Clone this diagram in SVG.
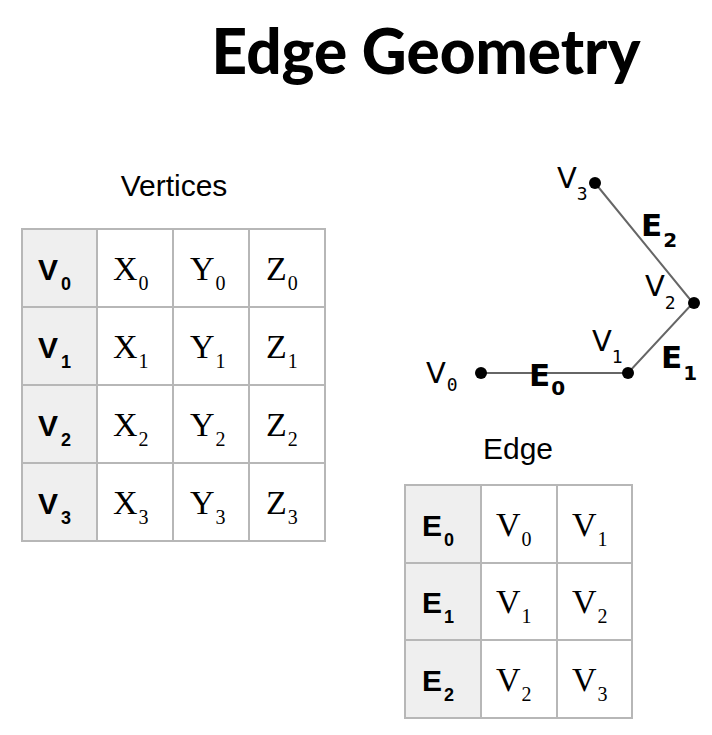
<svg xmlns="http://www.w3.org/2000/svg" width="712" height="735" viewBox="0 0 712 735">
<style>
.c{fill:#fff;stroke:#b7b7b7;stroke-width:2}
.h{fill:#efefef;stroke:#b7b7b7;stroke-width:2}
.hb{font-family:"Liberation Sans",Arial,sans-serif;font-weight:bold;font-size:30px;fill:#000}
.hs{font-size:18px}
.sr{font-family:"Liberation Serif","Times New Roman",serif;font-size:34px;fill:#000}
.ss{font-size:20px}
.lab{font-family:"Liberation Sans",Arial,sans-serif;font-size:30px;fill:#000}
.gv{font-family:"DejaVu Sans",sans-serif;font-size:29px;fill:#000}
.gm{font-family:"DejaVu Sans Mono",monospace;font-size:18px}
.ge{font-family:"DejaVu Sans",sans-serif;font-weight:bold;font-size:31px;fill:#000}
.gs{font-size:20px}
</style>
<text x="426" y="74" text-anchor="middle" font-family="Lato,sans-serif" font-weight="900" font-size="62" fill="#000">Edge Geometry</text>
<text x="174" y="196" text-anchor="middle" class="lab">Vertices</text>
<text x="518" y="459" text-anchor="middle" class="lab">Edge</text>
<g id="vertices">
<rect class="h" x="22" y="229" width="75" height="312"/>
<rect class="c" x="97" y="229" width="76" height="78"/><rect class="c" x="173" y="229" width="76" height="78"/><rect class="c" x="249" y="229" width="76" height="78"/>
<rect class="c" x="97" y="307" width="76" height="78"/><rect class="c" x="173" y="307" width="76" height="78"/><rect class="c" x="249" y="307" width="76" height="78"/>
<rect class="c" x="97" y="385" width="76" height="78"/><rect class="c" x="173" y="385" width="76" height="78"/><rect class="c" x="249" y="385" width="76" height="78"/>
<rect class="c" x="97" y="463" width="76" height="78"/><rect class="c" x="173" y="463" width="76" height="78"/><rect class="c" x="249" y="463" width="76" height="78"/>
<line x1="22" y1="307" x2="97" y2="307" stroke="#b7b7b7" stroke-width="2"/>
<line x1="22" y1="385" x2="97" y2="385" stroke="#b7b7b7" stroke-width="2"/>
<line x1="22" y1="463" x2="97" y2="463" stroke="#b7b7b7" stroke-width="2"/>
<text class="hb" x="38" y="280">V<tspan class="hs" dx="3" dy="10">0</tspan></text>
<text class="hb" x="38" y="358">V<tspan class="hs" dx="3" dy="10">1</tspan></text>
<text class="hb" x="38" y="436">V<tspan class="hs" dx="3" dy="10">2</tspan></text>
<text class="hb" x="38" y="514">V<tspan class="hs" dx="3" dy="10">3</tspan></text>
<g class="sr">
<text x="113" y="280">X<tspan class="ss" dx="1" dy="10">0</tspan></text>
<text x="190" y="280">Y<tspan class="ss" dx="1" dy="10">0</tspan></text>
<text x="266" y="280">Z<tspan class="ss" dx="1" dy="10">0</tspan></text>
<text x="113" y="358">X<tspan class="ss" dx="1" dy="10">1</tspan></text>
<text x="190" y="358">Y<tspan class="ss" dx="1" dy="10">1</tspan></text>
<text x="266" y="358">Z<tspan class="ss" dx="1" dy="10">1</tspan></text>
<text x="113" y="436">X<tspan class="ss" dx="1" dy="10">2</tspan></text>
<text x="190" y="436">Y<tspan class="ss" dx="1" dy="10">2</tspan></text>
<text x="266" y="436">Z<tspan class="ss" dx="1" dy="10">2</tspan></text>
<text x="113" y="514">X<tspan class="ss" dx="1" dy="10">3</tspan></text>
<text x="190" y="514">Y<tspan class="ss" dx="1" dy="10">3</tspan></text>
<text x="266" y="514">Z<tspan class="ss" dx="1" dy="10">3</tspan></text>
</g>
</g>
<g id="edges">
<rect class="h" x="405" y="485" width="76" height="233"/>
<rect class="c" x="481" y="485" width="76" height="78"/><rect class="c" x="557" y="485" width="75" height="78"/>
<rect class="c" x="481" y="563" width="76" height="77"/><rect class="c" x="557" y="563" width="75" height="77"/>
<rect class="c" x="481" y="640" width="76" height="78"/><rect class="c" x="557" y="640" width="75" height="78"/>
<line x1="405" y1="563" x2="481" y2="563" stroke="#b7b7b7" stroke-width="2"/>
<line x1="405" y1="640" x2="481" y2="640" stroke="#b7b7b7" stroke-width="2"/>
<text class="hb" x="422" y="536">E<tspan class="hs" dx="2" dy="10">0</tspan></text>
<text class="hb" x="422" y="613">E<tspan class="hs" dx="2" dy="10">1</tspan></text>
<text class="hb" x="422" y="691">E<tspan class="hs" dx="2" dy="10">2</tspan></text>
<g class="sr">
<text x="496" y="536">V<tspan class="ss" dx="1" dy="10">0</tspan></text>
<text x="572" y="536">V<tspan class="ss" dx="1" dy="10">1</tspan></text>
<text x="496" y="613">V<tspan class="ss" dx="1" dy="10">1</tspan></text>
<text x="572" y="613">V<tspan class="ss" dx="1" dy="10">2</tspan></text>
<text x="496" y="691">V<tspan class="ss" dx="1" dy="10">2</tspan></text>
<text x="572" y="691">V<tspan class="ss" dx="1" dy="10">3</tspan></text>
</g>
</g>
<g id="connectors" stroke="#666" stroke-width="2" fill="none">
<polyline points="481,373 628,373 693,303 595,183"/>
</g>
<g id="points" fill="#000">
<circle cx="481" cy="373" r="6"/><circle cx="628" cy="373" r="6"/><circle cx="694" cy="303" r="6"/><circle cx="595" cy="183" r="6"/>
</g>
<g id="labels">
<text class="gv" x="426" y="383">V<tspan class="gm" dx="1" dy="8">0</tspan></text>
<text class="gv" x="592" y="351">V<tspan class="gm" dx="0" dy="12">1</tspan></text>
<text class="gv" x="645" y="296">V<tspan class="gm" dx="0" dy="13">2</tspan></text>
<text class="gv" x="557" y="188">V<tspan class="gm" dx="0" dy="12">3</tspan></text>
<text class="ge" x="529" y="386">E<tspan class="gs" dx="1" dy="9">0</tspan></text>
<text class="ge" x="661" y="368">E<tspan class="gs" dx="1" dy="12">1</tspan></text>
<text class="ge" x="641" y="236">E<tspan class="gs" dx="1" dy="11">2</tspan></text>
</g>
</svg>
